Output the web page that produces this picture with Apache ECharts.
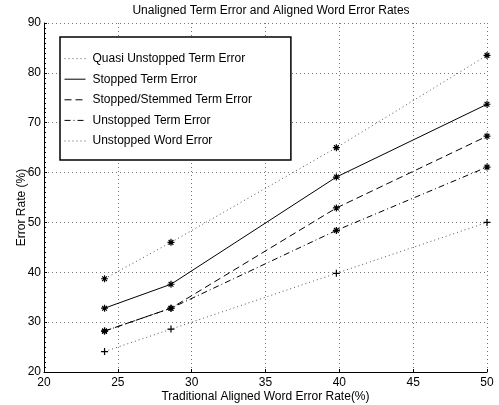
<!DOCTYPE html>
<html>
<head>
<meta charset="utf-8">
<script src="https://cdn.jsdelivr.net/npm/echarts@6/dist/echarts.min.js"></script>
<style>
  html, body { margin: 0; padding: 0; background: #fff; }
  #chart { width: 499px; height: 405px; }
</style>
</head>
<body>
<div id="chart"></div>
<script>
// Unaligned term error vs traditional aligned word error rate (MATLAB-style plot).
var xVals = [24.1, 28.6, 39.8, 50];
var quasiUnstopped = [38.7, 46, 65, 83.5];
var stoppedTerm = [32.8, 37.6, 59.1, 73.7];
var stemmedTerm = [28.2, 32.8, 52.9, 67.3];
var unstoppedTerm = [28.2, 32.8, 48.4, 61.1];
var unstoppedWord = [24.1, 28.6, 39.8, 50];
var names = ["Quasi Unstopped Term Error", "Stopped Term Error", "Stopped/Stemmed Term Error",
  "Unstopped Term Error", "Unstopped Word Error"];

var FONT = "Liberation Sans, Arial, sans-serif";
var STAR = "path://M5,0L5,10M0,5L10,5M1.6,1.6L8.4,8.4M1.6,8.4L8.4,1.6";
var PLUS = "path://M5,0L5,10M0,5L10,5";

function pts(ys) { return ys.map(function (y, i) { return [xVals[i], y]; }); }

function line(name, ys, dash, color, sym) {
  return {
    name: name, type: "line", data: pts(ys),
    symbol: sym, symbolSize: 7,
    itemStyle: { color: "#000", borderColor: "#000", borderWidth: 1.2 },
    lineStyle: { color: color, width: 1, type: dash },
    emphasis: { disabled: true },
    z: 3
  };
}

var chart = echarts.init(document.getElementById("chart"));
chart.setOption({
  animation: false,
  backgroundColor: "#fff",
  title: {
    text: "Unaligned Term Error and Aligned Word Error Rates",
    left: 266, top: 0, textAlign: "center",
    textStyle: { fontFamily: FONT, fontSize: 12, fontWeight: "normal", color: "#000" }
  },
  grid: { left: 44, right: 12, top: 23, bottom: 33, outerBoundsMode: "none" },
  legend: {
    orient: "vertical", left: 60, top: 37,
    data: names,
    itemWidth: 21, itemHeight: 14, itemGap: 7.4,
    padding: [15, 39, 12.5, 4],
    borderColor: "#000", borderWidth: 1.5, backgroundColor: "#fff",
    itemStyle: { opacity: 0 },
    lineStyle: { width: 1 },
    textStyle: { fontFamily: FONT, fontSize: 12, color: "#000", padding: [0, 0, 0, 2] },
    selectedMode: false
  },
  xAxis: {
    type: "value", min: 20, max: 50, interval: 5,
    name: "Traditional Aligned Word Error Rate(%)", nameLocation: "middle", nameGap: 19,
    nameMoveOverlap: false,
    nameTextStyle: { fontFamily: FONT, fontSize: 12, color: "#000" },
    axisLine: { lineStyle: { color: "#000", width: 1 } },
    axisTick: { inside: true, length: 3, lineStyle: { color: "#000" } },
    axisLabel: { fontFamily: FONT, fontSize: 12, color: "#000", margin: 5 },
    splitLine: { show: true, lineStyle: { color: "#777", type: [1, 3], width: 1 } }
  },
  yAxis: {
    type: "value", min: 20, max: 90, interval: 10,
    name: "Error Rate (%)", nameLocation: "middle", nameGap: 16,
    nameMoveOverlap: false,
    nameTextStyle: { fontFamily: FONT, fontSize: 12, color: "#000", padding: [0, 0, 0, -20] },
    axisLine: { lineStyle: { color: "#000", width: 1 } },
    axisTick: { inside: true, length: 3, lineStyle: { color: "#000" } },
    minorTick: { show: true, splitNumber: 10, length: 2, lineStyle: { color: "#000" } },
    axisLabel: { fontFamily: FONT, fontSize: 12, color: "#000", margin: 3 },
    splitLine: { show: true, lineStyle: { color: "#777", type: [1, 3], width: 1 } }
  },
  series: [
    line(names[0], quasiUnstopped, [1, 3], "#555", STAR),
    line(names[1], stoppedTerm, "solid", "#000", STAR),
    line(names[2], stemmedTerm, [7, 4], "#000", STAR),
    line(names[3], unstoppedTerm, [6, 3, 1, 3], "#000", STAR),
    line(names[4], unstoppedWord, [1, 3], "#555", PLUS)
  ]
});
</script>
</body>
</html>
